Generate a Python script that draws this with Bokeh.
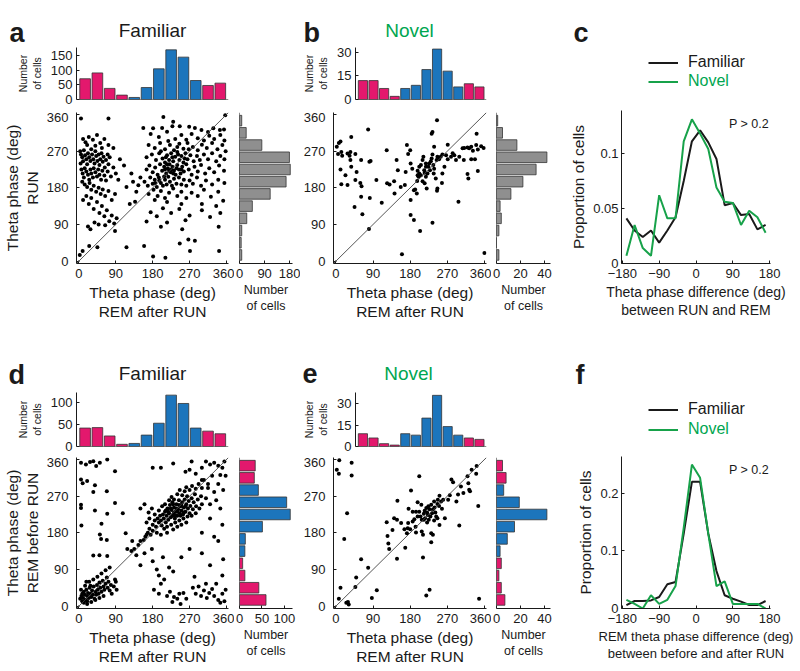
from bokeh.plotting import figure
from bokeh.layouts import row, column
from bokeh.models import Range1d, FixedTicker, Slope, Label, Legend, LegendItem, Span
from bokeh.embed import file_html
from bokeh.resources import INLINE

FONT = "Liberation Sans"
MAGENTA = "#E3186D"
BLUE = "#1C75BC"
GRAY = "#8F8F8F"
EDGE = "#333333"
GREEN = "#00A650"
LINE_GREEN = "#17A24A"
INK = "#1A1A1A"

# ---------------- data ----------------
bin_centers = [15, 45, 75, 105, 135, 165, 195, 225, 255, 285, 315, 345]
phase_ticks = [0, 90, 180, 270, 360]

hist_top_a = [71, 91, 38, 15, 7, 41, 105, 170, 145, 65, 48, 56]
hist_side_a = [8, 6, 8, 26, 46, 110, 167, 182, 179, 80, 24, 8]
hist_top_b = [12, 12, 7, 2, 7, 9, 19, 32, 18, 8, 10, 8]
hist_side_b = [2, 0, 2, 4, 3, 12, 22, 33, 42, 17, 5, 1]
hist_top_d = [42, 43, 24, 5, 7, 26, 53, 117, 98, 42, 35, 29]
hist_side_d = [59, 43, 12, 7, 12, 13, 51, 113, 105, 42, 33, 35]
hist_top_e = [9, 6, 2, 1, 9, 8, 20, 36, 14, 8, 6, 5]
hist_side_e = [7, 4, 2, 4, 3, 9, 15, 42, 19, 6, 8, 5]

diff_centers = [-170, -150, -130, -110, -90, -70, -50, -30, -10, 10, 30, 50, 70, 90, 110, 130, 150, 170]
c_familiar = [0.041, 0.030, 0.024, 0.030, 0.019, 0.030, 0.042, 0.075, 0.111, 0.121, 0.110, 0.095, 0.053, 0.055, 0.044, 0.045, 0.031, 0.035]
c_novel = [0.007, 0.035, 0.014, 0.007, 0.062, 0.041, 0.041, 0.111, 0.131, 0.118, 0.104, 0.069, 0.056, 0.055, 0.035, 0.048, 0.042, 0.028]
f_familiar = [0.006, 0.013, 0.013, 0.014, 0.020, 0.042, 0.046, 0.130, 0.220, 0.220, 0.130, 0.065, 0.023, 0.017, 0.012, 0.006, 0.006, 0.013]
f_novel = [0.015, 0.008, 0.000, 0.023, 0.008, 0.015, 0.039, 0.140, 0.250, 0.227, 0.130, 0.039, 0.047, 0.008, 0.008, 0.008, 0.008, 0.000]

# (REM after RUN phase, RUN phase) - panel a, familiar
a_points = [
    (3, 270), (5, 262), (8, 255), (4, 240), (10, 245), (12, 272), (15, 260), (18, 250), (20, 238), (22, 265),
    (25, 255), (28, 246), (30, 275), (32, 262), (35, 250), (38, 240), (40, 270), (42, 258), (45, 246), (48, 262),
    (50, 236), (52, 250), (55, 265), (58, 244), (60, 256), (63, 230), (66, 248), (70, 262), (72, 238), (75, 255),
    (6, 225), (9, 215), (12, 205), (14, 228), (18, 220), (22, 212), (25, 200), (28, 225), (30, 215), (34, 205),
    (36, 228), (40, 218), (44, 208), (47, 225), (50, 212), (54, 200), (57, 222), (62, 210), (66, 198), (70, 220),
    (78, 208), (84, 230), (90, 215), (96, 200), (8, 195), (14, 188), (20, 182), (26, 192), (30, 175), (36, 185),
    (42, 170), (48, 180), (53, 165), (58, 176), (64, 160), (72, 172), (80, 150), (88, 165), (10, 150), (18, 160),
    (24, 140), (30, 155), (36, 128), (44, 145), (50, 118), (56, 135), (62, 110), (68, 125), (74, 98), (80, 112),
    (86, 92), (92, 105), (22, 85), (28, 78), (38, 95), (48, 90), (64, 88), (10, 300), (16, 292), (24, 305),
    (34, 298), (44, 310), (52, 290), (62, 300), (72, 285), (84, 278), (20, 285), (40, 283), (56, 278),
    (116, 182), (132, 195), (145, 186), (140, 170), (150, 205), (128, 215), (110, 235), (100, 250),
    (175, 312), (195, 305), (215, 318), (235, 300), (250, 310), (262, 298), (275, 312), (290, 302), (305, 296),
    (318, 308), (330, 300), (345, 310), (355, 296),
    (170, 285), (185, 278), (198, 290), (210, 275), (222, 285), (232, 272), (245, 288), (255, 276), (265, 290),
    (278, 280), (290, 272), (300, 286), (312, 278), (325, 290), (338, 275), (350, 285), (358, 270), (240, 280),
    (218, 295), (268, 275),
    (165, 255), (178, 262), (188, 248), (196, 265), (204, 252), (210, 242), (215, 260), (220, 248), (225, 265),
    (230, 245), (235, 256), (240, 268), (245, 248), (250, 258), (255, 242), (260, 265), (265, 250), (272, 260),
    (280, 245), (288, 258), (295, 248), (305, 262), (315, 250), (325, 265), (335, 245), (345, 258), (355, 250),
    (200, 270), (228, 255), (242, 262), (258, 252), (212, 255),
    (165, 225), (172, 235), (180, 218), (186, 230), (192, 212), (198, 238), (203, 222), (208, 232), (213, 215),
    (217, 228), (221, 238), (224, 218), (228, 232), (232, 222), (236, 212), (240, 236), (244, 225), (248, 215),
    (252, 232), (256, 220), (262, 238), (268, 225), (275, 212), (282, 232), (290, 220), (298, 236), (308, 215),
    (318, 228), (330, 218), (342, 235), (354, 222), (210, 225), (226, 225), (238, 228), (230, 215), (220, 222),
    (250, 225), (215, 238),
    (160, 195), (168, 185), (174, 205), (180, 190), (185, 200), (190, 182), (195, 205), (200, 192), (205, 185),
    (210, 200), (214, 188), (218, 207), (222, 195), (227, 185), (232, 202), (238, 190), (244, 205), (250, 188),
    (256, 200), (262, 185), (270, 198), (278, 190), (288, 205), (298, 185), (310, 198), (325, 188), (340, 200),
    (355, 192), (196, 198), (208, 208), (186, 192),
    (170, 165), (182, 175), (192, 160), (200, 172), (210, 155), (220, 168), (230, 178), (240, 160), (250, 170),
    (262, 155), (275, 168), (290, 160), (305, 175), (322, 158), (340, 170), (352, 148), (185, 150), (215, 145),
    (250, 140), (300, 140), (335, 135),
    (175, 120), (190, 110), (205, 130), (225, 118), (245, 128), (270, 112), (300, 125), (320, 108), (345, 118),
    (215, 95), (260, 100),
    (5, 350), (72, 350), (206, 354), (230, 342), (157, 327), (181, 326), (203, 327), (228, 331), (246, 331),
    (269, 330), (283, 327), (299, 322), (315, 317), (328, 326), (344, 322), (354, 323),
    (2, 15), (9, 25), (25, 37), (45, 34), (116, 34), (159, 37), (181, 11), (211, 8), (246, 43), (252, 78),
    (267, 53), (271, 25), (283, 50), (342, 25), (341, 84), (200, 84), (165, 97), (88, 74), (124, 140), (137, 146),
    (357, 358),
]

# panel b, novel
b_points = [
    (2, 281), (7, 290), (11, 294), (13, 268), (5, 263), (15, 259), (28, 264), (33, 259), (35, 268), (47, 263),
    (61, 248), (37, 305), (11, 225), (23, 211), (13, 189), (28, 187), (37, 232), (47, 199), (50, 219), (59, 192),
    (62, 184), (61, 158), (45, 133), (81, 244), (84, 246), (78, 323), (82, 155), (64, 115), (98, 199), (111, 143),
    (80, 79), (35, 248),
    (123, 272), (124, 191), (130, 188), (141, 196), (142, 166), (147, 248), (150, 223), (157, 182), (167, 187),
    (169, 219), (172, 285), (180, 272), (175, 263), (181, 240), (185, 227), (189, 174), (192, 176), (181, 150),
    (196, 166), (197, 197), (202, 232), (206, 236), (210, 248), (212, 256), (206, 211), (198, 211), (202, 215),
    (198, 222), (200, 207), (214, 223), (215, 217), (218, 240), (218, 232), (218, 207), (222, 215), (224, 232),
    (226, 240), (228, 223), (230, 245), (232, 252), (234, 262), (238, 281), (236, 236), (238, 227), (237, 215),
    (242, 203), (244, 248), (246, 256), (250, 250), (254, 256), (258, 262), (232, 313), (234, 317), (245, 346),
    (210, 196), (215, 191), (220, 178), (245, 173), (246, 178), (257, 192), (258, 215),
    (181, 113), (189, 101), (204, 74), (234, 94), (160, 17), (360, 20),
    (271, 286), (279, 256), (287, 260), (291, 248), (299, 256), (307, 277), (311, 278), (319, 279), (323, 277),
    (328, 281), (332, 271), (340, 285), (344, 274), (352, 282), (358, 278), (310, 248), (319, 214), (321, 203),
    (328, 250), (344, 221), (337, 250), (341, 313), (297, 146), (283, 265), (267, 260), (263, 232), (271, 250),
]

# panel d, familiar (REM after RUN, REM before RUN)
d_points = [
    (5, 352), (17, 348), (27, 354), (35, 356), (42, 344), (51, 352), (69, 360), (88, 331), (5, 311), (9, 302),
    (20, 307), (39, 297), (5, 249), (5, 241), (6, 198), (35, 280), (68, 282), (88, 253), (39, 235), (69, 227),
    (55, 202), (107, 228), (114, 179), (51, 176), (54, 165), (68, 162), (50, 125), (35, 124), (69, 123),
    (3, 18), (6, 25), (8, 30), (10, 20), (12, 35), (14, 28), (16, 15), (18, 40), (20, 25), (22, 32), (24, 20),
    (26, 45), (28, 30), (30, 22), (32, 38), (34, 28), (36, 48), (38, 18), (40, 35), (42, 28), (44, 52), (46, 40),
    (48, 30), (50, 58), (52, 45), (55, 35), (58, 62), (60, 48), (62, 40), (65, 55), (68, 70), (70, 45), (72, 60),
    (75, 38), (78, 52), (80, 30), (85, 48), (88, 65), (12, 8), (20, 5), (30, 10), (40, 15), (5, 40), (15, 50),
    (25, 60), (35, 65), (45, 72), (55, 80), (65, 88), (75, 95), (20, 12), (8, 12), (50, 20), (60, 25), (90, 60),
    (92, 40), (18, 60), (28, 50),
    (183, 40), (195, 30), (200, 55), (208, 65), (215, 25), (222, 35), (228, 10), (232, 22), (240, 18), (245, 30),
    (248, 5), (255, 32), (262, 18), (278, 45), (285, 30), (292, 48), (298, 25), (305, 38), (312, 20), (318, 32),
    (325, 42), (330, 25), (340, 15), (345, 8), (350, 30), (355, 12), (358, 40), (335, 55), (310, 55), (282, 72),
    (350, 75), (195, 75),
    (140, 125), (160, 130), (180, 110), (190, 90), (205, 120), (220, 95), (230, 85), (165, 175), (178, 140),
    (150, 100), (250, 120), (270, 140), (300, 130), (340, 160), (352, 115), (320, 100), (130, 160), (118, 140),
    (128, 135), (135, 140), (145, 150), (150, 160), (158, 162), (162, 170), (168, 180), (172, 190), (175, 175),
    (180, 185),
    (180, 200), (185, 210), (188, 195), (192, 215), (195, 205), (198, 222), (200, 210), (202, 198), (205, 225),
    (207, 215), (210, 232), (212, 205), (214, 222), (216, 240), (218, 212), (220, 228), (222, 248), (224, 218),
    (226, 236), (228, 255), (230, 225), (232, 242), (234, 215), (236, 232), (238, 250), (240, 222), (242, 238),
    (244, 260), (246, 228), (248, 245), (250, 235), (252, 255), (254, 225), (256, 242), (258, 262), (260, 232),
    (262, 250), (264, 270), (266, 240), (268, 258), (270, 228), (272, 246), (275, 265), (278, 238), (280, 255),
    (283, 275), (286, 245), (290, 262), (294, 240), (298, 270),
    (210, 250), (220, 260), (226, 268), (232, 262), (240, 275), (246, 285), (252, 272), (258, 282), (262, 292),
    (270, 285), (276, 295), (285, 288), (292, 300), (300, 290), (305, 310), (315, 300),
    (195, 235), (203, 245), (208, 190), (215, 195), (225, 200), (235, 205), (245, 210), (255, 215), (265, 220),
    (275, 222), (285, 228), (190, 180), (200, 175), (215, 180), (230, 188), (240, 195), (250, 200), (262, 205),
    (212, 235), (228, 222), (238, 240), (248, 222), (232, 230), (244, 248), (256, 230), (224, 240), (236, 222),
    (240, 232), (230, 250), (250, 248), (218, 232), (260, 245), (185, 225), (172, 215), (170, 230), (165, 205),
    (178, 240), (160, 250), (150, 240),
    (300, 340), (310, 355), (320, 348), (330, 352), (340, 345), (350, 340), (355, 355), (345, 322), (325, 320),
    (300, 310), (285, 325), (270, 335), (315, 290), (330, 280), (340, 300), (352, 285), (358, 320), (335, 260),
    (320, 250), (345, 240), (300, 250), (310, 265), (180, 340), (200, 340), (230, 350), (260, 330), (275, 355),
    (350, 200), (320, 215), (300, 180), (330, 170),
]

# panel e, novel
e_points = [
    (2, 335), (7, 325), (8, 358), (38, 352), (38, 321), (27, 228), (20, 165), (11, 45), (7, 18), (25, 8), (31, 4),
    (29, 10), (47, 47), (49, 70), (61, 115), (78, 94), (87, 20), (99, 39), (148, 116), (125, 172), (127, 154),
    (129, 140), (123, 206), (137, 187), (149, 259), (141, 216), (148, 212), (158, 204), (166, 189), (168, 143),
    (172, 179), (174, 191), (175, 204), (182, 284), (180, 189), (186, 208), (190, 213), (193, 195), (194, 181),
    (198, 220), (202, 319), (202, 232), (205, 220), (208, 212), (211, 175), (211, 119), (213, 227), (215, 234),
    (216, 216), (219, 241), (221, 230), (223, 224), (224, 245), (225, 212), (227, 238), (229, 220), (231, 249),
    (233, 228), (235, 237), (238, 257), (239, 242), (241, 230), (243, 220), (246, 251), (247, 261), (250, 246),
    (251, 271), (255, 257), (257, 239), (260, 261), (264, 216), (231, 179), (231, 157), (235, 175), (219, 26),
    (227, 40), (272, 261), (276, 272), (280, 311), (284, 304), (292, 257), (296, 274), (299, 198), (303, 294),
    (309, 278), (319, 319), (321, 302), (323, 286), (325, 282), (329, 335), (340, 325), (341, 344), (345, 246),
    (347, 18), (198, 255), (207, 249), (194, 232), (213, 212), (221, 205), (238, 210), (246, 216), (251, 199),
    (208, 183), (186, 232), (176, 239),
]

# ---------------- helpers ----------------
def bin_color(c):
    return BLUE if 120 < c < 300 else MAGENTA


phase_colors = [bin_color(c) for c in bin_centers]


def no_align(p):
    if "frame_align" in p.properties():
        p.frame_align = False
    return p


def make_fig(w, h, xr, yr, bl, br, bt, bb, xloc="below", yloc="left"):
    p = figure(width=w, height=h, x_range=xr, y_range=yr, title=None,
               toolbar_location=None, output_backend="svg",
               x_axis_location=xloc, y_axis_location=yloc,
               min_border_left=bl, min_border_right=br,
               min_border_top=bt, min_border_bottom=bb)
    p.outline_line_color = None
    for g in p.grid:
        g.visible = False
    p.background_fill_color = "white"
    p.border_fill_color = "white"
    return no_align(p)


def header(w, h):
    p = make_fig(w, h, Range1d(0, w), Range1d(0, h), 0, 0, 0, 0, xloc=None, yloc=None)
    p.min_border = 0
    return p


def style_axis(ax, ticks, label=None, label_size="15.5px", standoff=5,
               label_standoff=2, overrides=None, tick_size="13px"):
    ax.axis_line_color = INK
    ax.axis_line_width = 1
    ax.minor_tick_line_color = None
    ax.major_tick_line_color = INK
    ax.major_tick_in = 3
    ax.major_tick_out = 0
    ax.major_label_text_font = FONT
    ax.major_label_text_font_size = tick_size
    ax.major_label_text_color = INK
    ax.major_label_standoff = standoff
    ax.axis_label_text_font = FONT
    ax.axis_label_text_font_size = label_size
    ax.axis_label_text_font_style = "normal"
    ax.axis_label_text_color = INK
    ax.axis_label_standoff = label_standoff
    ax.axis_label_text_line_height = 1.15
    ax.ticker = FixedTicker(ticks=ticks)
    ax.axis_label = label
    if overrides:
        ax.major_label_overrides = overrides


def add_text(p, x, y, text, size, color=INK, bold=False, align="left", baseline="alphabetic"):
    p.add_layout(Label(x=x, y=y, text=text,
                       text_font=FONT, text_font_size=size, text_color=color,
                       text_font_style="bold" if bold else "normal",
                       text_align=align, text_baseline=baseline))


def top_hist(values, ymax, yticks, xr, w, bl, br, h, bt, bb):
    p = make_fig(w, h, xr, Range1d(0, ymax), bl, br, bt, bb, xloc=None)
    p.vbar(x=bin_centers, top=values, bottom=0, width=26, fill_color=phase_colors,
           line_color=EDGE, line_width=0.8)
    p.add_layout(Span(location=0, dimension="width", line_color=INK, line_width=1))
    style_axis(p.yaxis[0], yticks, "Number\nof cells", label_size="10.5px", standoff=4, label_standoff=5)
    return p


def side_hist(values, xmax, xticks, yr, w, bl, br, h, bb, colors):
    p = make_fig(w, h, Range1d(0, xmax), yr, bl, br, 0, bb, yloc=None)
    p.hbar(y=bin_centers, right=values, left=0, height=26, fill_color=colors,
           line_color=EDGE, line_width=0.8)
    p.add_layout(Span(location=0, dimension="height", line_color=INK, line_width=1))
    style_axis(p.xaxis[0], xticks, "Number\nof cells", label_size="12.5px", standoff=5, label_standoff=2)
    return p


def scatter_panel(points, xr, yr, w, bl, br, h, bb, ylabel):
    p = make_fig(w, h, xr, yr, bl, br, 0, bb)
    xs = [pt[0] for pt in points]
    ys = [pt[1] for pt in points]
    p.add_layout(Slope(gradient=1, y_intercept=0, line_color="#444444", line_width=0.9))
    p.scatter(xs, ys, size=4, color="black", line_color=None)
    style_axis(p.xaxis[0], phase_ticks, "Theta phase (deg)\nREM after RUN", standoff=5, label_standoff=3)
    style_axis(p.yaxis[0], phase_ticks, ylabel, standoff=8, label_standoff=3)
    return p


def diff_panel(fam, nov, ymax, yticks, yover, xlabel, xlabel_size, h, bt, bb):
    p = make_fig(236, h, Range1d(-182, 182), Range1d(0, ymax), 61, 26, bt, bb)
    p.line(diff_centers, fam, line_color=INK, line_width=2)
    p.line(diff_centers, nov, line_color=LINE_GREEN, line_width=2)
    style_axis(p.xaxis[0], [-180, -90, 0, 90, 180], xlabel, label_size=xlabel_size,
               standoff=5, label_standoff=3, overrides={-180: "\u2212180", -90: "\u221290"})
    style_axis(p.yaxis[0], yticks, "Proportion of cells", standoff=3, label_standoff=3,
               overrides=yover)
    add_text(p, 178, ymax * 0.96, "P > 0.2", "12.5px", align="right", baseline="top")
    return p


def add_legend(p, text, color, xs, ys, line_color, loc):
    r = p.line(xs, ys, line_color=line_color, line_width=2, visible=False)
    lg = Legend(items=[LegendItem(label=text, renderers=[r])], location=loc,
                glyph_width=30, glyph_height=19, label_height=19, label_standoff=10,
                padding=0, margin=0, spacing=0, border_line_color=None,
                background_fill_alpha=0, inactive_fill_alpha=0, label_text_font=FONT,
                label_text_font_size="16px", label_text_color=color)
    p.add_layout(lg)


# ---------------- top row (height 330) ----------------
xr_a = Range1d(-6, 365)
yr_a = Range1d(-6, 365)
hd_a = header(300, 42)
add_text(hd_a, 9, 10, "a", "27px", bold=True)
add_text(hd_a, 152, 12, "Familiar", "19px", align="center")
top_a = top_hist(hist_top_a, 178, [0, 50, 100, 150], xr_a, 300, 76, 72, 70, 5, 13)
sc_a = scatter_panel(a_points, xr_a, yr_a, 234, 76, 6, 218, 67, "Theta phase (deg)\nRUN")
sd_a = side_hist(hist_side_a, 190, [0, 90, 180], yr_a, 66, 5, 8, 218, 67, [GRAY] * 12)
block_a = column(hd_a, top_a, row(sc_a, sd_a, spacing=0), spacing=0)

xr_b = Range1d(-6, 365)
yr_b = Range1d(-6, 365)
hd_b = header(260, 42)
add_text(hd_b, 3, 10, "b", "27px", bold=True)
add_text(hd_b, 109, 12, "Novel", "19px", color=GREEN, align="center")
top_b = top_hist(hist_top_b, 33, [0, 15, 30], xr_b, 260, 33, 74, 70, 5, 13)
sc_b = scatter_panel(b_points, xr_b, yr_b, 191, 33, 5, 218, 67, None)
sd_b = side_hist(hist_side_b, 45, [0, 20, 40], yr_b, 69, 5, 10, 218, 67, [GRAY] * 12)
block_b = column(hd_b, top_b, row(sc_b, sd_b, spacing=0), spacing=0)

hd_c = header(236, 102)
add_text(hd_c, 13, 70, "c", "27px", bold=True)
add_legend(hd_c, "Familiar", INK, diff_centers, c_familiar, INK, (88, 30.5))
add_legend(hd_c, "Novel", GREEN, diff_centers, c_novel, LINE_GREEN, (88, 11.5))
pc = diff_panel(c_familiar, c_novel, 0.139, [0, 0.05, 0.1], {0: "0", 0.05: "0.05", 0.1: "0.1"},
                "Theta phase difference (deg)\nbetween RUN and REM", "14px", 228, 8, 67)
block_c = column(hd_c, pc, spacing=0)

top_row = row(block_a, block_b, block_c, spacing=0)

# ---------------- bottom row (height 338) ----------------
xr_d = Range1d(-6, 365)
yr_d = Range1d(-6, 365)
hd_d = header(300, 56)
add_text(hd_d, 8, 12, "d", "27px", bold=True)
add_text(hd_d, 152, 13, "Familiar", "19px", align="center")
top_d = top_hist(hist_top_d, 123, [0, 50, 100], xr_d, 300, 76, 72, 71, 6, 11)
sc_d = scatter_panel(d_points, xr_d, yr_d, 234, 76, 6, 211, 60, "Theta phase (deg)\nREM before RUN")
sd_d = side_hist(hist_side_d, 118, [0, 50, 100], yr_d, 66, 5, 8, 211, 60, phase_colors)
block_d = column(hd_d, top_d, row(sc_d, sd_d, spacing=0), spacing=0)

xr_e = Range1d(-6, 365)
yr_e = Range1d(-6, 365)
hd_e = header(260, 56)
add_text(hd_e, 2, 13, "e", "27px", bold=True)
add_text(hd_e, 108, 13, "Novel", "19px", color=GREEN, align="center")
top_e = top_hist(hist_top_e, 38, [0, 15, 30], xr_e, 260, 33, 74, 71, 6, 11)
sc_e = scatter_panel(e_points, xr_e, yr_e, 191, 33, 5, 211, 60, None)
sd_e = side_hist(hist_side_e, 45, [0, 20, 40], yr_e, 69, 5, 10, 211, 60, phase_colors)
block_e = column(hd_e, top_e, row(sc_e, sd_e, spacing=0), spacing=0)

hd_f = header(236, 116)
add_text(hd_f, 15, 72, "f", "27px", bold=True)
add_legend(hd_f, "Familiar", INK, diff_centers, f_familiar, INK, (88, 27.5))
add_legend(hd_f, "Novel", GREEN, diff_centers, f_novel, LINE_GREEN, (88, 7.5))
pf = diff_panel(f_familiar, f_novel, 0.264, [0, 0.1, 0.2], {0: "0", 0.1: "0.1", 0.2: "0.2"},
                "REM theta phase difference (deg)\nbetween before and after RUN", "13px", 222, 10, 60)
block_f = column(hd_f, pf, spacing=0)

bottom_row = row(block_d, block_e, block_f, spacing=0)

layout = column(top_row, bottom_row, spacing=0)

with open("out.html", "w") as fh:
    fh.write(file_html(layout, INLINE))
